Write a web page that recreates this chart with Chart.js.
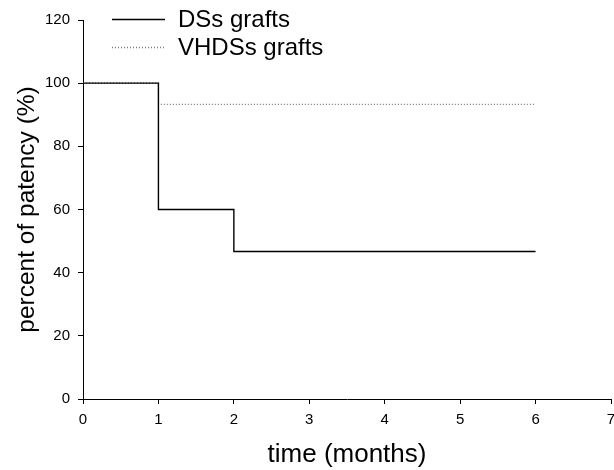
<!DOCTYPE html>
<html>
<head>
<meta charset="utf-8">
<script src="https://cdn.jsdelivr.net/npm/chart.js@4/dist/chart.umd.min.js"></script>
<style>
    html, body { margin: 0; padding: 0; background: #fff; }
    #wrap { width: 614px; height: 470px; }
</style>
</head>
<body>
<div id="wrap"><canvas id="patencyChart" width="614" height="470"></canvas></div>
<script>
// values
const dssMonths = [0, 1, 2, 6];
const dssPatency = [100, 60, 46.7, 46.7];
const vhdssMonths = [0, 1, 6];
const vhdssPatency = [100, 93.3, 93.3];
const seriesNames = ['DSs grafts', 'VHDSs grafts'];
const xTicks = [0, 1, 2, 3, 4, 5, 6, 7];
const yTicks = [0, 20, 40, 60, 80, 100, 120];

const FONT = 'Arial, "Liberation Sans", sans-serif';

function toPoints(xs, ys) {
    return xs.map((x, i) => ({ x: x, y: ys[i] }));
}

// legend drawn by hand so it sits inside the plot like the original
const legendPlugin = {
    id: 'insideLegend',
    afterDraw(chart) {
        const ctx = chart.ctx;
        const rows = [
            { label: seriesNames[0], dash: [], color: '#000', y: 19 },
            { label: seriesNames[1], dash: [1, 2], color: '#777', y: 47 }
        ];
        ctx.save();
        rows.forEach(r => {
            ctx.beginPath();
            ctx.setLineDash(r.dash);
            ctx.strokeStyle = r.color;
            ctx.lineWidth = 1.3;
            ctx.moveTo(112, r.y + 0.5);
            ctx.lineTo(165, r.y + 0.5);
            ctx.stroke();
            ctx.setLineDash([]);
            ctx.fillStyle = '#000';
            ctx.font = '24px ' + FONT;
            ctx.textBaseline = 'alphabetic';
            ctx.fillText(r.label, 178, r.y + 8);
        });
        ctx.restore();
    }
};

const axisCommon = {
    type: 'linear',
    border: { display: true, color: '#000', width: 1 },
    grid: { display: true, drawOnChartArea: false, drawTicks: true, tickLength: 5, color: '#000' },
    ticks: { color: '#000', font: { family: FONT, size: 15 } }
};

new Chart(document.getElementById('patencyChart').getContext('2d'), {
    type: 'scatter',
    data: {
        datasets: [
            {
                label: seriesNames[0],
                data: toPoints(dssMonths, dssPatency),
                showLine: true,
                stepped: 'before',
                borderColor: '#000',
                borderWidth: 1.4,
                pointRadius: 0
            },
            {
                label: seriesNames[1],
                data: toPoints(vhdssMonths, vhdssPatency),
                showLine: true,
                stepped: 'before',
                borderColor: '#777',
                borderDash: [1, 2],
                borderWidth: 1.2,
                pointRadius: 0
            }
        ]
    },
    options: {
        responsive: false,
        animation: false,
        layout: { padding: { top: 20, right: 0, left: 0, bottom: 0 } },
        plugins: { legend: { display: false }, tooltip: { enabled: false } },
        scales: {
            x: {
                ...axisCommon,
                min: 0, max: 7,
                ticks: { ...axisCommon.ticks, padding: 7 },
                afterBuildTicks: s => { s.ticks = xTicks.map(v => ({ value: v })); },
                afterFit: s => { s.height = 71; s.paddingRight = 3; },
                title: { display: true, text: 'time (months)', color: '#000', font: { family: FONT, size: 26 }, padding: { top: 0, bottom: 0 } }
            },
            y: {
                ...axisCommon,
                min: 0, max: 120,
                ticks: { ...axisCommon.ticks, padding: 8 },
                afterBuildTicks: s => { s.ticks = yTicks.map(v => ({ value: v })); },
                afterFit: s => { s.width = 83; },
                title: { display: true, text: 'percent of patency (%)', color: '#000', font: { family: FONT, size: 24.5 }, padding: { top: 13, bottom: 0 } }
            }
        }
    },
    plugins: [legendPlugin]
});
</script>
</body>
</html>
